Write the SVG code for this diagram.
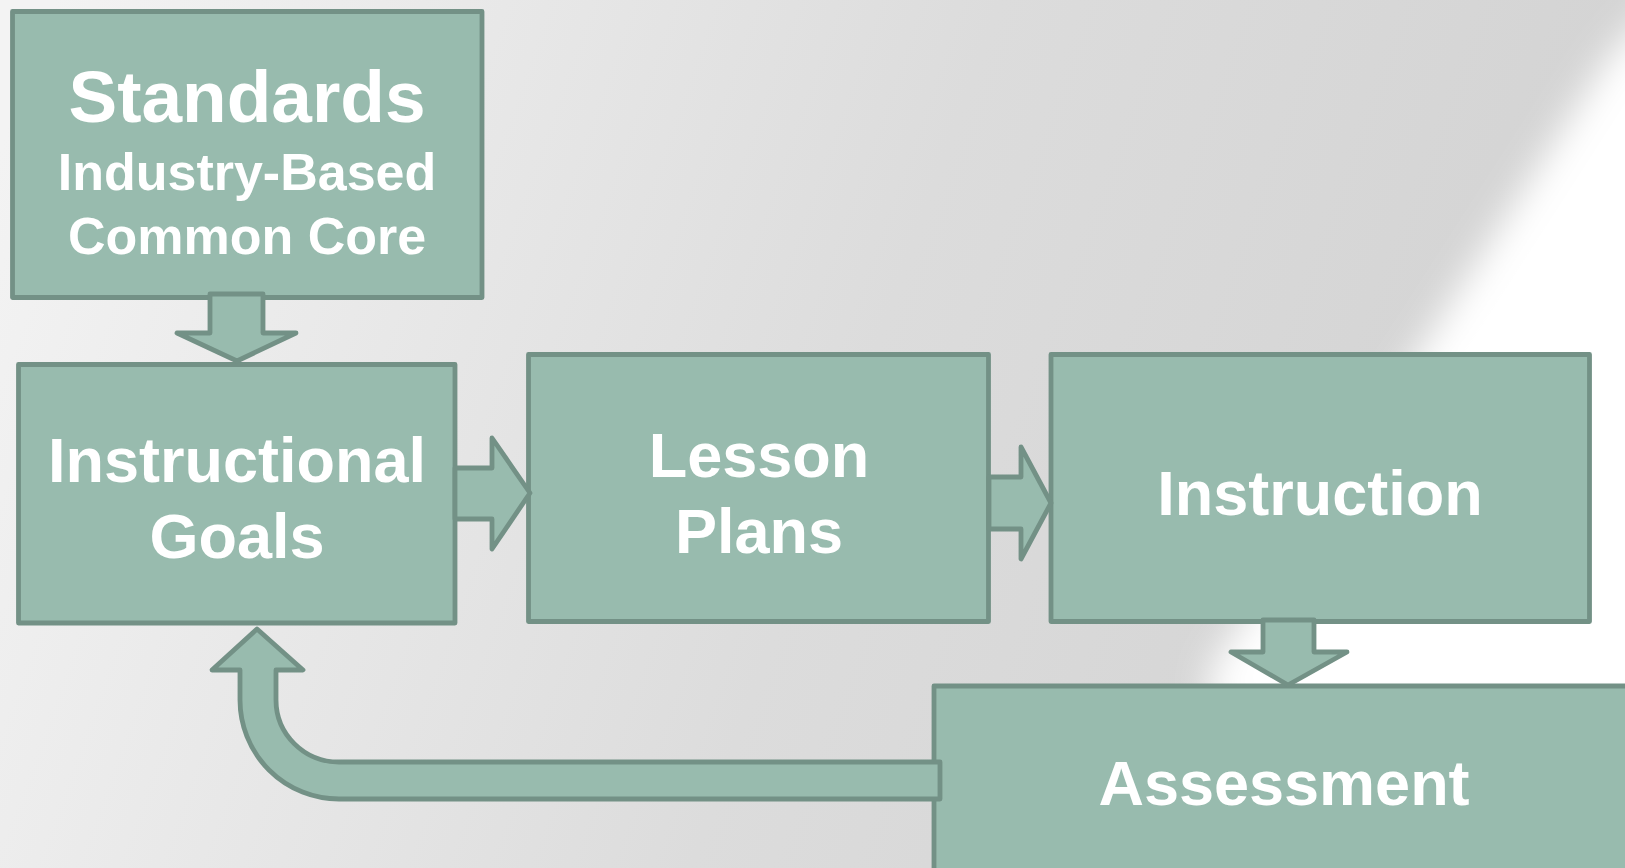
<svg xmlns="http://www.w3.org/2000/svg" width="1625" height="868" viewBox="0 0 1625 868">
<defs>
<linearGradient id="bg" gradientUnits="userSpaceOnUse" x1="0" y1="150" x2="1400" y2="650">
<stop offset="0" stop-color="#f3f3f3"/>
<stop offset="0.6" stop-color="#dcdcdc"/>
<stop offset="1" stop-color="#d4d4d4"/>
</linearGradient>
<filter id="soft" filterUnits="userSpaceOnUse" x="1000" y="-100" width="800" height="900">
<feGaussianBlur stdDeviation="18"/>
</filter>
<style>
.box{fill:#98bbae;stroke:#739186;stroke-width:4.8;stroke-linejoin:round}
.arr{fill:#98bbae;stroke:#739186;stroke-width:4.8;stroke-linejoin:round}
.t{fill:#ffffff;font-family:"Liberation Sans",Arial,sans-serif;font-weight:bold;text-anchor:middle}
.big{font-size:63px}
.sm{font-size:52px}
</style>
</defs>
<rect x="0" y="0" width="1625" height="868" fill="url(#bg)"/>
<path d="M1720,-60 L1700,-40 L1610,55 L1428,338 L1210,670 L1210,720 L1720,720 Z" fill="#ffffff" filter="url(#soft)"/>
<g id="standards">
<rect class="box" x="12.5" y="11.5" width="469.5" height="286"/>
<text class="t" x="247" y="122" font-size="73px">Standards</text>
<text class="t sm" x="247" y="190">Industry-Based</text>
<text class="t sm" x="247" y="254">Common Core</text>
</g>
<g id="instructional-goals">
<rect class="box" x="18.5" y="364.5" width="436.5" height="258.5"/>
<text class="t big" x="237" y="482">Instructional</text>
<text class="t big" x="237" y="558">Goals</text>
</g>
<g id="lesson-plans">
<rect class="box" x="528.5" y="354.5" width="460" height="267"/>
<text class="t big" x="759" y="477">Lesson</text>
<text class="t big" x="759" y="553">Plans</text>
</g>
<g id="instruction">
<rect class="box" x="1051" y="354.5" width="538.5" height="267"/>
<text class="t big" x="1320" y="515">Instruction</text>
</g>
<g id="assessment">
<rect class="box" x="934" y="686" width="720" height="220"/>
<text class="t big" x="1284" y="805">Assessment</text>
</g>
<g id="connectors">
<path class="arr" d="M210,294 L263,294 L263,333 L296,333 L237,361 L177,333 L210,333 Z"/>
<path class="arr" d="M455,468 L492,468 L492,438 L530,493 L492,549 L492,519 L455,519 Z"/>
<path class="arr" d="M989,477 L1021,477 L1021,447 L1051,503 L1021,559 L1021,529 L989,529 Z"/>
<path class="arr" d="M1263,620 L1314,620 L1314,652 L1347,652 L1288,685 L1231,652 L1263,652 Z"/>
<path class="arr" d="M257,629 L303,670 L276,670 L276,700 A63,62 0 0 0 339,762 L940,762 L940,799 L339,799 A99,99 0 0 1 240,700 L240,670 L212,670 Z"/>
</g>
</svg>
